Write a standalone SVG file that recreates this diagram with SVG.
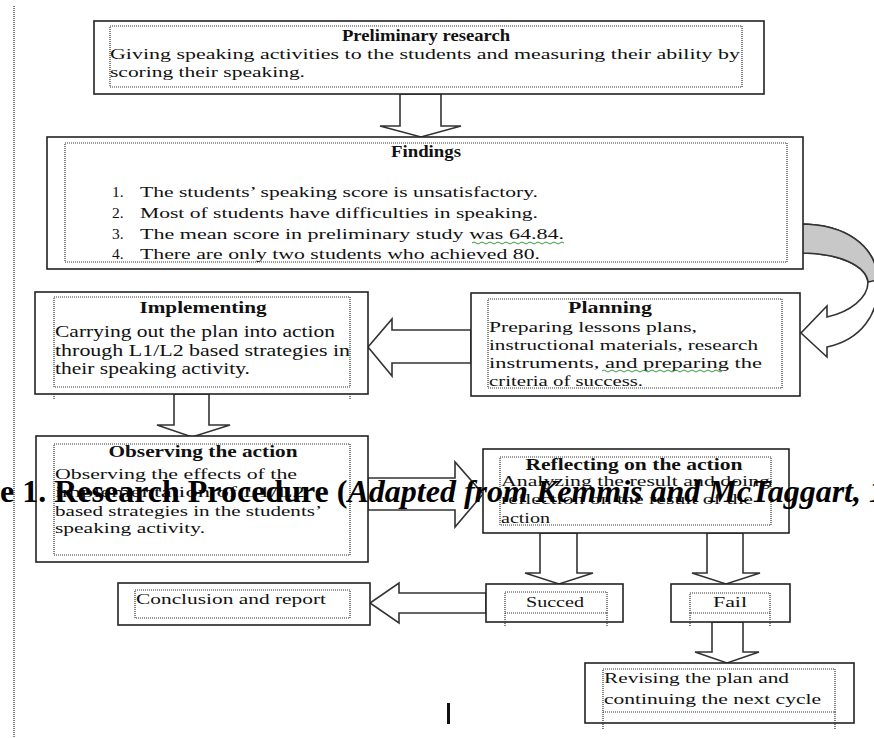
<svg xmlns="http://www.w3.org/2000/svg" width="874" height="738" viewBox="0 0 874 738">
<style>
.box{fill:#fff;stroke:#222;stroke-width:1.6}
.dot{fill:none;stroke:#333;stroke-width:1.2;stroke-dasharray:1 1}
.arr{fill:#fff;stroke:#333;stroke-width:1.6;stroke-linejoin:miter}
.t{font-family:"Liberation Serif","Times New Roman",serif;font-size:15.5px;fill:#111}
.b{font-weight:bold;font-size:16.5px}
.c{text-anchor:middle}
.cap{font-family:"Liberation Serif","Times New Roman",serif;font-size:32px;font-weight:bold;fill:#000}
.sq{fill:none;stroke:#3a9a3a;stroke-width:1}
</style>
<rect width="874" height="738" fill="#fff"/>
<line x1="14" y1="6" x2="14" y2="738" stroke="#555" stroke-width="1.5" stroke-dasharray="1 1"/>

<g id="connectors">
<polygon class="arr" points="400,94 441,94 441,126 461,126 421,137 380,126 400,126"/>
<path d="M800,224 C845,224 876,245 878,280 C880,315 860,340 827,347 L827,357 L801,333 L827,306 L827,317 C850,312 868,298 868,282 C866,266 840,253 800,253 Z" fill="#fff" stroke="#333" stroke-width="1.6"/>
<path d="M800,224 C845,224 876,245 878,280 L868,282 C866,266 840,253 800,253 Z" fill="#c8c8c8" stroke="#333" stroke-width="1.6"/>
<polygon class="arr" points="471,330 392,330 392,319 368,347 392,376 392,363 471,363"/>
<polygon class="arr" points="174,394 209,394 209,425 230,425 192,437 157,425 174,425"/>
<polygon class="arr" points="368,478 455,478 455,462 483,494 455,527 455,510 368,510"/>
<polygon class="arr" points="540,533 577,533 577,573 593,573 559,584 525,573 540,573"/>
<polygon class="arr" points="707,533 743,533 743,573 760,573 726,584 692,573 707,573"/>
<polygon class="arr" points="486,593 399,593 399,583 370,603 399,623 399,613 486,613"/>
<polygon class="arr" points="712,622 743,622 743,652 759,652 727,663 695,652 712,652"/>
</g>

<g id="preliminary">
<rect class="box" x="94" y="21" width="670" height="73"/>
<rect class="dot" x="110" y="26" width="632" height="61"/>
<text class="t b c" x="426" y="41" textLength="168" lengthAdjust="spacingAndGlyphs">Preliminary  research</text>
<text class="t" x="110" y="59" textLength="630" lengthAdjust="spacingAndGlyphs">Giving speaking activities to the students and measuring their ability by</text>
<text class="t" x="110" y="77" textLength="195" lengthAdjust="spacingAndGlyphs">scoring their speaking.</text>
</g>

<g id="findings">
<rect class="box" x="47" y="137" width="756" height="132"/>
<rect class="dot" x="65" y="143" width="722" height="119"/>
<text class="t b c" x="426" y="157" textLength="70" lengthAdjust="spacingAndGlyphs">Findings</text>
<text class="t" x="112" y="197">1.</text>
<text class="t" x="140" y="197" textLength="398" lengthAdjust="spacingAndGlyphs">The students’ speaking score is unsatisfactory.</text>
<text class="t" x="112" y="218">2.</text>
<text class="t" x="140" y="218" textLength="398" lengthAdjust="spacingAndGlyphs">Most of students have difficulties in speaking.</text>
<text class="t" x="112" y="239">3.</text>
<text class="t" x="140" y="239" textLength="424" lengthAdjust="spacingAndGlyphs">The mean score in preliminary study was  64.84.</text>
<path class="sq" d="M472,243 q2,-2 4,0 t4,0 t4,0 t4,0 t4,0 t4,0 t4,0 t4,0 t4,0 t4,0 t4,0 t4,0 t4,0 t4,0 t4,0 t4,0 t4,0 t4,0 t4,0 t4,0 t4,0 t4,0 t4,0"/>
<text class="t" x="112" y="259">4.</text>
<text class="t" x="140" y="259" textLength="400" lengthAdjust="spacingAndGlyphs">There are only two students who achieved  80.</text>
</g>

<g id="implementing">
<rect class="box" x="35" y="292" width="333" height="102"/>
<rect class="dot" x="54" y="297" width="296" height="90"/>
<line class="dot" x1="54" y1="394" x2="54" y2="400"/>
<line class="dot" x1="350" y1="394" x2="350" y2="400"/>
<text class="t b c" x="203" y="313" textLength="127" lengthAdjust="spacingAndGlyphs">Implementing</text>
<text class="t" x="55" y="337" textLength="280" lengthAdjust="spacingAndGlyphs" style="font-size:17px">Carrying  out the plan into action</text>
<text class="t" x="55" y="356" textLength="295" lengthAdjust="spacingAndGlyphs" style="font-size:17px">through L1/L2 based strategies  in</text>
<text class="t" x="55" y="374" textLength="195" lengthAdjust="spacingAndGlyphs" style="font-size:17px">their speaking activity.</text>
</g>

<g id="planning">
<rect class="box" x="471" y="293" width="329" height="103"/>
<rect class="dot" x="488" y="299" width="294" height="89"/>
<text class="t b c" x="610" y="313" textLength="84" lengthAdjust="spacingAndGlyphs">Planning</text>
<text class="t" x="489" y="332" textLength="208" lengthAdjust="spacingAndGlyphs">Preparing  lessons plans,</text>
<text class="t" x="489" y="350" textLength="269" lengthAdjust="spacingAndGlyphs">instructional  materials, research</text>
<text class="t" x="489" y="368" textLength="273" lengthAdjust="spacingAndGlyphs">instruments, and preparing  the</text>
<path class="sq" d="M602,371 q2,-2 4,0 t4,0 t4,0 t4,0 t4,0 t4,0 t4,0 t4,0 t4,0 t4,0 t4,0 t4,0 t4,0 t4,0 t4,0 t4,0 t4,0 t4,0 t4,0 t4,0 t4,0 t4,0 t4,0 t4,0 t4,0 t4,0 t4,0 t4,0 t4,0 t4,0"/>
<text class="t" x="489" y="386" textLength="154" lengthAdjust="spacingAndGlyphs">criteria  of success.</text>
</g>

<g id="observing">
<rect class="box" x="36" y="436" width="332" height="126"/>
<rect class="dot" x="54" y="444" width="296" height="111"/>
<text class="t b c" x="203" y="457" textLength="189" lengthAdjust="spacingAndGlyphs">Observing  the action</text>
<text class="t" x="55" y="479" textLength="242" lengthAdjust="spacingAndGlyphs">Observing  the effects  of the</text>
<text class="t" x="55" y="497" textLength="250" lengthAdjust="spacingAndGlyphs">implementation of L1/L2</text>
<text class="t" x="55" y="516" textLength="267" lengthAdjust="spacingAndGlyphs">based strategies  in the students’</text>
<text class="t" x="55" y="533" textLength="150" lengthAdjust="spacingAndGlyphs">speaking  activity.</text>
</g>

<g id="reflecting">
<rect class="box" x="483" y="449" width="306" height="84"/>
<rect class="dot" x="500" y="457" width="271" height="68"/>
<text class="t b c" x="634" y="470" textLength="217" lengthAdjust="spacingAndGlyphs">Reflecting  on the action</text>
<text class="t" x="501" y="486" textLength="269" lengthAdjust="spacingAndGlyphs">Analyzing  the result  and doing</text>
<text class="t" x="501" y="504" textLength="252" lengthAdjust="spacingAndGlyphs">reflection  on the result  of the</text>
<text class="t" x="501" y="523" textLength="49" lengthAdjust="spacingAndGlyphs">action</text>
</g>

<g id="conclusion">
<rect class="box" x="118" y="583" width="252" height="42"/>
<rect class="dot" x="135" y="590" width="215" height="28"/>
<text class="t" x="136" y="604" textLength="190" lengthAdjust="spacingAndGlyphs">Conclusion and report</text>
</g>

<g id="succed">
<rect class="box" x="486" y="584" width="137" height="38"/>
<rect class="dot" x="505" y="592" width="102" height="21"/>
<line class="dot" x1="505" y1="613" x2="505" y2="626"/>
<line class="dot" x1="607" y1="613" x2="607" y2="626"/>
<text class="t c" x="555" y="607" textLength="58" lengthAdjust="spacingAndGlyphs">Succed</text>
</g>

<g id="fail">
<rect class="box" x="671" y="584" width="119" height="38"/>
<rect class="dot" x="690" y="593" width="80" height="20"/>
<line class="dot" x1="690" y1="613" x2="690" y2="626"/>
<line class="dot" x1="770" y1="613" x2="770" y2="626"/>
<text class="t c" x="730" y="607" textLength="34" lengthAdjust="spacingAndGlyphs">Fail</text>
</g>

<g id="revising">
<rect class="box" x="585" y="663" width="269" height="60"/>
<rect class="dot" x="603" y="669" width="232" height="43"/>
<line class="dot" x1="603" y1="712" x2="603" y2="730"/>
<line class="dot" x1="835" y1="712" x2="835" y2="730"/>
<text class="t" x="604" y="683" textLength="185" lengthAdjust="spacingAndGlyphs">Revising the plan and</text>
<text class="t" x="604" y="704" textLength="217" lengthAdjust="spacingAndGlyphs">continuing  the next  cycle</text>
</g>

<rect x="447" y="703" width="3" height="21" fill="#111"/>

<text class="cap" x="0" y="502" xml:space="preserve">e 1. Research Procedure (<tspan font-style="italic">Adapted from Kemmis and McTaggart, 1988)</tspan></text>
</svg>
